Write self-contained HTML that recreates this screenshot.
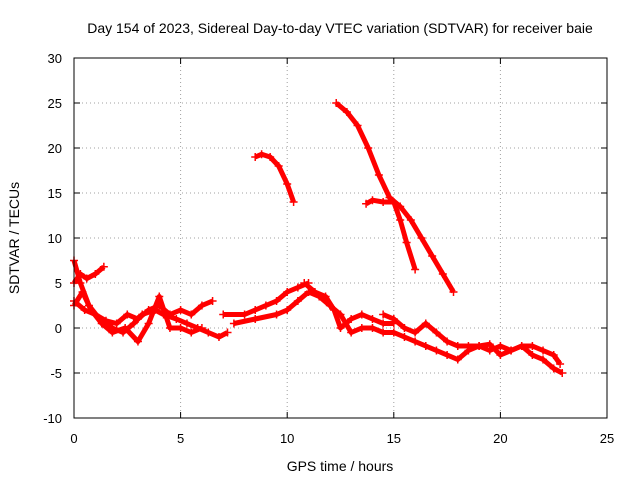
<!DOCTYPE html>
<html><head><meta charset="utf-8"><style>
body{margin:0;background:#fff}
svg{display:block;font-family:"Liberation Sans",sans-serif;font-size:13px}
</style></head><body>
<svg id="chart" width="640" height="480" viewBox="0 0 640 480">
<text x="340" y="33" text-anchor="middle" font-size="14">Day 154 of 2023, Sidereal Day-to-day VTEC variation (SDTVAR) for receiver baie</text>
<text x="340" y="471" text-anchor="middle" font-size="14">GPS time / hours</text>
<text x="19" y="238" text-anchor="middle" font-size="14" transform="rotate(-90 19 238)">SDTVAR / TECUs</text>
<g id="grid"></g><g id="ticks"></g><g id="series"></g>
<rect x="74" y="58" width="533" height="360" fill="none" stroke="#000" stroke-width="1"/>
</svg>
<script>
const xTicks=[0,5,10,15,20,25];
const yTicks=[-10,-5,0,5,10,15,20,25,30];
const track1=[[8.5,19],[8.8,19.3],[9.2,19],[9.6,18],[10,16],[10.3,14]];
const track2=[[12.3,25],[12.8,24],[13.3,22.5],[13.8,20],[14.3,17],[14.8,14.5],[15.3,13.5],[15.8,12],[16.3,10],[16.8,8],[17.3,6],[17.8,4]];
const track3=[[13.7,13.8],[14,14.2],[14.5,14],[15,14],[15.3,12],[15.6,9.5],[16,6.5]];
const trackA=[[0,7.5],[0.3,5],[0.7,2.5],[1.2,1],[1.8,0],[2.3,-0.5],[2.8,0.5],[3.2,1.5],[3.8,2],[4.2,1.5],[4.8,1],[5.3,0.5],[5.8,0],[6.3,-0.5],[6.8,-1],[7.2,-0.5]];
const trackB=[[0,5],[0.3,6],[0.6,5.5],[1,6],[1.4,6.8]];
const trackC=[[0,3],[0.5,2],[1,1.5],[1.5,0.8],[2,0.5],[2.5,1.5],[3,1],[3.5,2],[4,2.5],[4.5,1.5],[5,2],[5.5,1.5],[6,2.5],[6.5,3]];
const trackC2=[[0,2.5],[0.4,4],[0.8,2],[1.3,0.5],[1.8,-0.5],[2.4,0],[3,-1.5],[3.5,0.5],[4,3.5],[4.5,0],[5,0],[5.5,-0.5],[6,0]];
const trackD=[[7,1.5],[8,1.5],[8.5,2],[9,2.5],[9.5,3],[10,4],[10.5,4.5],[11,5]];
const trackE=[[7.5,0.5],[8.5,1],[9.5,1.5],[10,2],[10.5,3],[11,4]];
const trackF=[[10.8,5],[11.3,4],[11.8,3.5],[12.2,2],[12.5,0],[13,1],[13.5,1.5],[14,1],[14.5,0.5],[15,0.5]];
const trackG=[[11,4],[11.5,3.5],[12,2.5],[12.5,1.5],[13,-0.5],[13.5,0],[14,0],[14.5,-0.5],[15,-0.5],[15.5,-1],[16,-1.5],[16.5,-2],[17,-2.5],[17.5,-3],[18,-3.5],[18.5,-2.5],[19,-2],[19.5,-2.5],[20,-2],[20.5,-2.5],[21,-2],[21.5,-3],[22,-3.5],[22.5,-4.5],[22.9,-5]];
const trackH=[[14.5,1.5],[15,1],[15.5,0],[16,-0.5],[16.5,0.5],[17,-0.5],[17.5,-1.5],[18,-2],[18.5,-2],[19,-2],[19.5,-1.8],[20,-3],[20.5,-2.5],[21,-2],[21.5,-2],[22,-2.5],[22.5,-3],[22.8,-4]];
const tracks=[track1,track2,track3,trackA,trackB,trackC,trackC2,trackD,trackE,trackF,trackG,trackH];
const NS="http://www.w3.org/2000/svg";
function xs(v){return 74+(v-0)*533/25;}
function ys(v){return 418-(v+10)*360/40;}
function mk(t,a,p){const e=document.createElementNS(NS,t);for(const k in a)e.setAttribute(k,a[k]);p.appendChild(e);return e;}
const grid=document.getElementById('grid'),tk=document.getElementById('ticks'),se=document.getElementById('series');
xTicks.forEach(v=>{const x=xs(v);
 if(v>0&&v<25){const l=mk('line',{x1:x,x2:x,y1:58,y2:418,stroke:'#a0a0a0','stroke-dasharray':'1,3'},grid);
 
 }
 const t=mk('text',{x:x,y:443,'text-anchor':'middle'},tk);t.textContent=v;
 
 
 mk('line',{x1:x,x2:x,y1:418,y2:412,stroke:'#000'},tk);mk('line',{x1:x,x2:x,y1:58,y2:64,stroke:'#000'},tk);
});
yTicks.forEach(v=>{const y=ys(v);
 if(v>-10&&v<30){const l=mk('line',{x1:74,x2:607,y1:y,y2:y,stroke:'#a0a0a0','stroke-dasharray':'1,3'},grid);
 
 }
 const t=mk('text',{x:62,y:y+5,'text-anchor':'end'},tk);t.textContent=v;
 
 
 mk('line',{x1:74,x2:80,y1:y,y2:y,stroke:'#000'},tk);mk('line',{x1:607,x2:601,y1:y,y2:y,stroke:'#000'},tk);
});
tracks.forEach((tr,i)=>{
 const pl=mk('polyline',{points:tr.map(p=>xs(p[0])+','+ys(p[1])).join(' '),fill:'none',stroke:'#f00','stroke-width':5,'stroke-linejoin':'round'},se);
 
 
 tr.forEach(p=>{const x=xs(p[0]),y=ys(p[1]);
  const m=mk('path',{d:`M${x-4},${y}h8M${x},${y-4}v8`,stroke:'#f00','stroke-width':1.5},se);
  
  
 });
});
</script>
</body></html>
